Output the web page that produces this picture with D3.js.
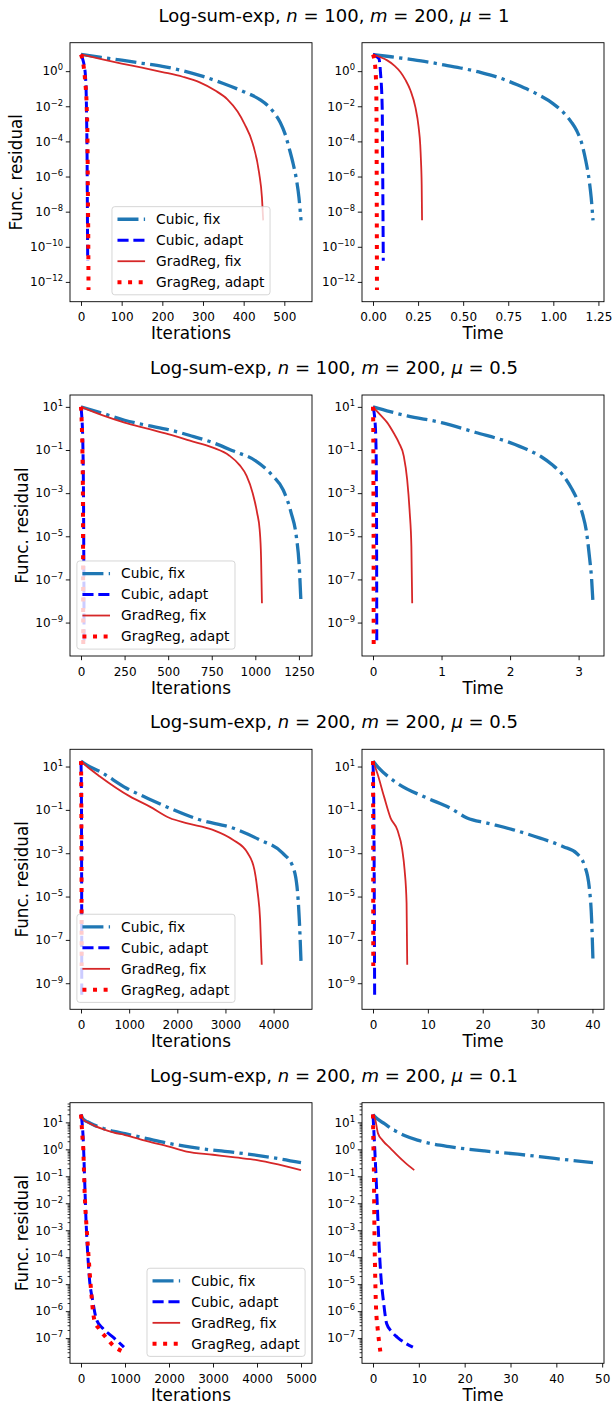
<!DOCTYPE html>
<html><head><meta charset="utf-8">
<script src="https://cdn.jsdelivr.net/npm/d3@7"></script>
<style>body{margin:0;background:#fff}svg{display:block}text{font-family:"DejaVu Sans",sans-serif;fill:#000}</style>
</head><body><svg id="c" width="613" height="1406"></svg>
<script>
// ---------------- DATA ----------------
const seriesNames = ["Cubic, fix", "Cubic, adapt", "GradReg, fix", "GragReg, adapt"];
const xAxisLabels = ["Iterations", "Time"];
const titleN = ["100", "100", "200", "200"];
const titleM = ["200", "200", "200", "200"];
const titleMu = ["1", "0.5", "0.5", "0.1"];

const iterTicks1 = [0, 100, 200, 300, 400, 500];
const timeTicks1 = [0, 0.25, 0.5, 0.75, 1.0, 1.25];
const iterTicks2 = [0, 250, 500, 750, 1000, 1250];
const timeTicks2 = [0, 1, 2, 3];
const iterTicks3 = [0, 1000, 2000, 3000, 4000];
const timeTicks3 = [0, 10, 20, 30, 40];
const iterTicks4 = [0, 1000, 2000, 3000, 4000, 5000];
const timeTicks4 = [0, 10, 20, 30, 40, 50];
const yTicks1 = [1e0, 1e-2, 1e-4, 1e-6, 1e-8, 1e-10, 1e-12];
const yTicks2 = [1e1, 1e-1, 1e-3, 1e-5, 1e-7, 1e-9];
const yTicks3 = [1e1, 1e-1, 1e-3, 1e-5, 1e-7, 1e-9];
const yTicks4 = [1e1, 1e0, 1e-1, 1e-2, 1e-3, 1e-4, 1e-5, 1e-6, 1e-7];

// Row 1: n=100, m=200, mu=1
const r1IterCubicFix = [[0,8.9],[50,6.0],[100,4.2],[150,2.8],[200,1.9],[250,1.07],[300,0.5],[350,0.2],[400,0.068],[440,0.024],[460,0.0105],[475,0.0042],[490,1.2e-3],[502,2.6e-4],[512,4e-5],[522,5e-6],[530,6.3e-7],[536,6.3e-8],[541,3.2e-9]];
const r1IterCubicAdapt = [[0,8.9],[4,5.0],[8,2.0],[11,0.5],[13,0.032],[14,1e-3],[15,1e-5],[15.5,1e-7],[16,1e-9],[16.5,1.6e-11]];
const r1IterGradFix = [[0,8.9],[50,4.8],[100,2.7],[150,1.58],[200,0.89],[250,0.48],[292,0.23],[330,0.079],[360,0.025],[385,0.005],[402,1e-3],[422,7.9e-5],[438,1.6e-6],[445,6.3e-8],[448,3.2e-9]];
const r1IterGradAdapt = [[0,8.9],[5,3.2],[10,0.32],[14,0.01],[16,1e-4],[17,1e-7],[18,1e-10],[18.5,3.5e-13]];
const r1TimeCubicFix = [[0,8.9],[0.1,6.6],[0.2,4.8],[0.3,3.4],[0.4,2.2],[0.5,1.41],[0.6,0.83],[0.7,0.42],[0.8,0.166],[0.9,0.056],[1.0,0.0138],[1.06,0.004],[1.1,1.26e-3],[1.13,4e-4],[1.16,6.3e-5],[1.18,7.9e-6],[1.2,5e-7],[1.21,6.3e-8],[1.22,3.2e-9]];
const r1TimeCubicAdapt = [[0,8.9],[0.033,5.1],[0.042,0.71],[0.051,8.9e-3],[0.054,1e-6],[0.057,1.6e-11]];
const r1TimeGradFix = [[0,8.9],[0.04,6.3],[0.079,4.1],[0.12,2.0],[0.153,0.87],[0.18,0.32],[0.208,0.079],[0.235,8.9e-3],[0.253,6.5e-4],[0.262,6.3e-5],[0.266,7.9e-6],[0.27,3.2e-7],[0.272,3.2e-9]];
const r1TimeGradAdapt = [[0,8.9],[0.012,2.0],[0.018,0.1],[0.02,1e-4],[0.021,1e-8],[0.022,3.5e-13]];

// Row 2: n=100, m=200, mu=0.5
const r2IterCubicFix = [[0,10],[125,5.0],[250,2.4],[375,1.41],[500,0.89],[625,0.47],[750,0.23],[875,0.089],[1000,0.032],[1100,6.3e-3],[1160,1.4e-3],[1205,1.26e-4],[1235,1e-5],[1252,4e-7],[1262,7.9e-9]];
const r2IterCubicAdapt = [[0,10],[5,3.2],[10,0.32],[13,0.01],[15,1e-4],[16,1e-6],[17,1e-8],[17.5,1e-10]];
const r2IterGradFix = [[0,10],[125,4.0],[250,1.86],[375,1.0],[500,0.54],[625,0.27],[757,0.129],[850,0.056],[910,0.02],[950,6.3e-3],[985,1e-3],[1010,1.26e-4],[1025,2e-5],[1033,1e-6],[1038,7.9e-9]];
const r2IterGradAdapt = [[0,10],[4,2.0],[8,0.1],[11,1e-3],[12,1e-6],[13,1e-10]];
const r2TimeCubicFix = [[0,10],[0.25,6.0],[0.5,3.8],[1.0,1.86],[1.5,0.65],[2.0,0.22],[2.25,0.105],[2.45,0.05],[2.62,0.02],[2.78,6.3e-3],[2.9,1.6e-3],[2.98,5e-4],[3.06,1e-4],[3.11,2e-5],[3.16,1e-6],[3.19,1e-7],[3.21,7.9e-9]];
const r2TimeCubicAdapt = [[0,10],[0.03,2.0],[0.045,0.1],[0.05,1e-3],[0.053,1e-6],[0.055,1e-10]];
const r2TimeGradFix = [[0,10],[0.1,4.5],[0.208,1.86],[0.3,0.63],[0.377,0.22],[0.449,0.052],[0.498,4.4e-3],[0.536,1.23e-4],[0.56,3.4e-6],[0.572,7.9e-9]];
const r2TimeGradAdapt = [[0,10],[0.004,1.0],[0.007,1e-3],[0.009,1e-6],[0.01,1e-10]];

// Row 3: n=200, m=200, mu=0.5
const r3IterCubicFix = [[0,17.8],[100,12.6],[393,5.9],[946,1.0],[1400,0.33],[1843,0.12],[2464,0.035],[3153,0.0145],[3706,4.2e-3],[4189,1e-3],[4396,2.5e-4],[4486,2.9e-5],[4534,8.5e-7],[4569,1e-8]];
const r3IterCubicAdapt = [[0,17.8],[5,3.2],[10,0.1],[13,1e-4],[15,1e-7],[16,2.2e-10]];
const r3IterGradFix = [[0,17.8],[100,11.2],[393,3.5],[1014,0.42],[1429,0.141],[1843,0.042],[2188,0.0245],[2740,0.012],[3153,4.2e-3],[3464,1e-3],[3602,1.7e-4],[3671,1.45e-5],[3720,8.5e-7],[3754,7.1e-9]];
const r3IterGradAdapt = [[0,17.8],[5,1.0],[10,1e-3],[12,1e-6],[13,6.3e-9]];
const r3TimeCubicFix = [[0,17.8],[1,8.9],[4.43,1.7],[9.88,0.35],[14.12,0.12],[17.15,0.042],[20.8,0.0245],[25.6,0.012],[30.45,5e-3],[34.7,2.0e-3],[37.1,1e-3],[38.6,2.5e-4],[39.4,2.9e-5],[39.85,8.5e-7],[40.1,1e-8]];
const r3TimeCubicAdapt = [[0,17.8],[0.1,1.0],[0.2,1e-3],[0.25,1e-6],[0.3,2.2e-10]];
const r3TimeGradFix = [[0,17.8],[0.79,4.9],[2.0,0.42],[3.21,0.042],[4.43,0.012],[5.33,1.45e-3],[5.76,1.7e-4],[6.12,5e-6],[6.24,7.1e-9]];
const r3TimeGradAdapt = [[0,17.8],[0.03,0.01],[0.05,6.3e-9]];

// Row 4: n=200, m=200, mu=0.1
const r4IterCubicFix = [[0,19.5],[50,13.2],[150,10.5],[300,7.9],[500,6.0],[750,4.6],[1000,3.8],[1500,2.5],[2000,1.66],[2500,1.2],[3000,0.93],[3500,0.76],[4000,0.6],[4500,0.45],[5000,0.32]];
const r4IterCubicAdapt = [[0,19.5],[53,1.9],[83,0.072],[114,2.3e-3],[144,2.4e-4],[189,1.8e-5],[265,2.5e-6],[356,4.7e-7],[508,2.2e-7],[735,1.07e-7],[977,4.6e-8]];
const r4IterGradFix = [[0,19.5],[50,12.6],[150,10],[300,7.6],[500,5.6],[750,4.2],[1000,3.4],[1500,2.0],[2000,1.26],[2400,0.83],[3000,0.63],[3500,0.5],[4000,0.4],[4500,0.27],[5000,0.17]];
const r4IterGradAdapt = [[0,19.5],[38,2.2],[53,0.93],[76,0.054],[98,7.2e-3],[129,1.15e-3],[167,1.4e-4],[220,8.9e-6],[303,4.7e-7],[409,2.2e-7],[568,1.07e-7],[735,5.2e-8],[947,3.2e-8]];
const r4TimeCubicFix = [[0,19.5],[1,13.2],[2.5,8.9],[4.6,5.1],[7,3.2],[9.7,2.2],[13,1.58],[17,1.23],[24.3,0.87],[31.6,0.66],[39.6,0.46],[48,0.32]];
const r4TimeCubicAdapt = [[0,19.5],[0.36,1.23],[0.8,0.03],[1.17,1e-3],[1.68,2.5e-5],[2.26,2.5e-6],[2.99,3.4e-7],[4,1.8e-7],[5.32,1.07e-7],[7,6.6e-8],[8.7,4.6e-8]];
const r4TimeGradFix = [[0,19.5],[0.5,12.6],[1.09,3.9],[2.04,2.2],[3.86,1.07],[5.32,0.6],[6.77,0.35],[9,0.17]];
const r4TimeGradAdapt = [[0,19.5],[0.07,2.2],[0.22,0.072],[0.29,2.3e-3],[0.44,4.3e-5],[0.66,1.4e-6],[1.02,2.2e-7],[1.3,7.9e-8],[1.6,3.2e-8]];

// ---------------- BUILD ----------------
const rows = [
  {iter:[r1IterCubicFix,r1IterCubicAdapt,r1IterGradFix,r1IterGradAdapt], time:[r1TimeCubicFix,r1TimeCubicAdapt,r1TimeGradFix,r1TimeGradAdapt], iterTicks:iterTicks1, timeTicks:timeTicks1, yTicks:yTicks1, timeFmt:d3.format(".2f"), minor:false, legend:"lower center"},
  {iter:[r2IterCubicFix,r2IterCubicAdapt,r2IterGradFix,r2IterGradAdapt], time:[r2TimeCubicFix,r2TimeCubicAdapt,r2TimeGradFix,r2TimeGradAdapt], iterTicks:iterTicks2, timeTicks:timeTicks2, yTicks:yTicks2, timeFmt:d3.format("d"), minor:false, legend:"lower left"},
  {iter:[r3IterCubicFix,r3IterCubicAdapt,r3IterGradFix,r3IterGradAdapt], time:[r3TimeCubicFix,r3TimeCubicAdapt,r3TimeGradFix,r3TimeGradAdapt], iterTicks:iterTicks3, timeTicks:timeTicks3, yTicks:yTicks3, timeFmt:d3.format("d"), minor:false, legend:"lower left"},
  {iter:[r4IterCubicFix,r4IterCubicAdapt,r4IterGradFix,r4IterGradAdapt], time:[r4TimeCubicFix,r4TimeCubicAdapt,r4TimeGradFix,r4TimeGradAdapt], iterTicks:iterTicks4, timeTicks:timeTicks4, yTicks:yTicks4, timeFmt:d3.format("d"), minor:true, legend:"lower right"},
];

const styles = [
  {color:"#1f77b4", w:3.3, dash:"21 5.3 3.3 5.3"},
  {color:"#0000ff", w:3.0, dash:"11.1 4.8"},
  {color:"#d62728", w:1.8, dash:null},
  {color:"#ff0000", w:4.0, dash:"4 6.6"},
];

const rowBox = [[42.7,301.7],[395,656],[749.3,1009.3],[1102.7,1363.3]];
const colBox = [[70,312],[362,604]];
const TICK = 4.2, TICKFS = 12, LABELFS = 16.8, TITLEFS = 18, LEGFS = 13.8;

const svg = d3.select("#c");
svg.append("rect").attr("width",613).attr("height",1406).attr("fill","#fff");
const defs = svg.append("defs");
const sup = v => {
  const e = Math.round(Math.log10(v));
  return e < 0 ? "\u2212" + Math.abs(e) : String(e);
};

rows.forEach((row, ri) => {
  const [top, bottom] = rowBox[ri];
  const t = svg.append("text").attr("x", 334).attr("y", top - 21)
    .attr("text-anchor","middle").style("font-size", TITLEFS + "px");
  t.append("tspan").text("Log-sum-exp, ");
  t.append("tspan").style("font-style","italic").text("n");
  t.append("tspan").text(" = " + titleN[ri] + ", ");
  t.append("tspan").style("font-style","italic").text("m");
  t.append("tspan").text(" = " + titleM[ri] + ", ");
  t.append("tspan").style("font-style","italic").text("\u03bc");
  t.append("tspan").text(" = " + titleMu[ri]);

  [0,1].forEach(ci => {
    const [left, right] = colBox[ci];
    const series = ci === 0 ? row.iter : row.time;
    const all = series.flat();
    const xmax = d3.max(all, d => d[0]), xmin = d3.min(all, d => d[0]);
    const xr = xmax - xmin;
    const x = d3.scaleLinear().domain([xmin - 0.05*xr, xmax + 0.05*xr]).range([left, right]);
    const lmax = Math.log10(d3.max(all, d => d[1])), lmin = Math.log10(d3.min(all, d => d[1]));
    const lr = lmax - lmin;
    const y = d3.scaleLog().domain([Math.pow(10, lmin - 0.05*lr), Math.pow(10, lmax + 0.05*lr)]).range([bottom, top]);

    const g = svg.append("g");
    const cid = "clip" + ri + "_" + ci;
    defs.append("clipPath").attr("id", cid).append("rect")
      .attr("x", left).attr("y", top).attr("width", right-left).attr("height", bottom-top);

    const line = d3.line().x(d => x(d[0])).y(d => y(d[1])).curve(d3.curveMonotoneX);
    const lg = g.append("g").attr("clip-path", "url(#" + cid + ")");
    series.forEach((s, si) => {
      const st = styles[si];
      lg.append("path").attr("d", line(s)).attr("fill","none")
        .attr("stroke", st.color).attr("stroke-width", st.w)
        .attr("stroke-dasharray", st.dash).attr("stroke-linejoin","round")
        .attr("stroke-linecap","butt");
    });

    const ticksX = ci === 0 ? row.iterTicks : row.timeTicks;
    const fmt = ci === 0 ? d3.format("d") : row.timeFmt;
    const xa = g.append("g").attr("transform", `translate(0,${bottom})`)
      .call(d3.axisBottom(x).tickValues(ticksX).tickSize(TICK).tickFormat(fmt));
    xa.select(".domain").remove();
    xa.selectAll("line").attr("stroke","#000").attr("stroke-width",0.9);
    xa.selectAll("text").attr("y", 19.5).attr("dy", null)
      .style("font-size", TICKFS + "px").style("font-family",'"DejaVu Sans",sans-serif').attr("fill","#000");

    const ya = g.append("g").attr("transform", `translate(${left},0)`)
      .call(d3.axisLeft(y).tickValues(row.yTicks).tickSize(TICK).tickFormat(""));
    ya.select(".domain").remove();
    ya.selectAll("line").attr("stroke","#000").attr("stroke-width",0.9);
    ya.selectAll("text").remove();
    if (row.minor) {
      const [d0, d1] = y.domain();
      const minors = [];
      for (let e = Math.floor(Math.log10(d0)); e <= Math.ceil(Math.log10(d1)); e++)
        for (let m = 2; m <= 9; m++) { const v = m * Math.pow(10, e); if (v >= d0 && v <= d1) minors.push(v); }
      const ym = g.append("g").attr("transform", `translate(${left},0)`)
        .call(d3.axisLeft(y).tickValues(minors).tickSize(2.4).tickFormat(""));
      ym.select(".domain").remove();
      ym.selectAll("line").attr("stroke","#000").attr("stroke-width",0.8);
      ym.selectAll("text").remove();
    }
    const labs = g.append("g");
    row.yTicks.forEach(v => {
      const tx = labs.append("text").attr("x", left - 7).attr("y", y(v) + 4.3)
        .attr("text-anchor","end").style("font-size", TICKFS + "px");
      tx.append("tspan").text("10");
      tx.append("tspan").attr("dy", -5).style("font-size","8.4px").text(sup(v));
    });

    g.append("rect").attr("x", left).attr("y", top).attr("width", right-left).attr("height", bottom-top)
      .attr("fill","none").attr("stroke","#000").attr("stroke-width",0.9);

    g.append("text").attr("x", (left+right)/2).attr("y", bottom + 37.5)
      .attr("text-anchor","middle").style("font-size", LABELFS + "px").text(xAxisLabels[ci]);

    if (ci === 0) {
      let minX = Infinity;
      labs.selectAll("text").each(function(){ minX = Math.min(minX, this.getBBox().x); });
      const lx = minX - 7.6, ly = (top+bottom)/2;
      g.append("text").attr("transform", `translate(${lx},${ly}) rotate(-90)`)
        .attr("text-anchor","middle").style("font-size", LABELFS + "px").text("Func. residual");

      const f = LEGFS, bp = 0.4*f, hl = 2*f, htp = 0.8*f, rowStep = 21, rowH = 14.1, pad = 0.5*f;
      const leg = g.append("g");
      const texts = seriesNames.map(n => leg.append("text").style("font-size", f + "px").text(n));
      const tw = d3.max(texts, tt => tt.node().getComputedTextLength());
      const lw = bp + hl + htp + tw + bp;
      const lh = 2*bp + 4*rowH + 3*(rowStep - rowH);
      let lx0;
      if (row.legend === "lower center") lx0 = (left+right)/2 - lw/2;
      else if (row.legend === "lower left") lx0 = left + pad;
      else lx0 = right - pad - lw;
      const ly0 = bottom - pad - lh;
      leg.insert("rect", ":first-child").attr("x", lx0).attr("y", ly0).attr("width", lw).attr("height", lh)
        .attr("rx", 2.8).attr("fill","#fff").attr("fill-opacity",0.8)
        .attr("stroke","#cccccc").attr("stroke-opacity",0.8).attr("stroke-width",1);
      seriesNames.forEach((n, si) => {
        const cy = ly0 + bp + rowH/2 + si*rowStep;
        const st = styles[si];
        leg.append("line").attr("x1", lx0 + bp).attr("x2", lx0 + bp + hl).attr("y1", cy).attr("y2", cy)
          .attr("stroke", st.color).attr("stroke-width", st.w).attr("stroke-dasharray", st.dash).attr("stroke-linecap","butt");
        texts[si].attr("x", lx0 + bp + hl + htp).attr("y", cy + 4.9).raise();
      });
    }
  });
});
</script></body></html>
